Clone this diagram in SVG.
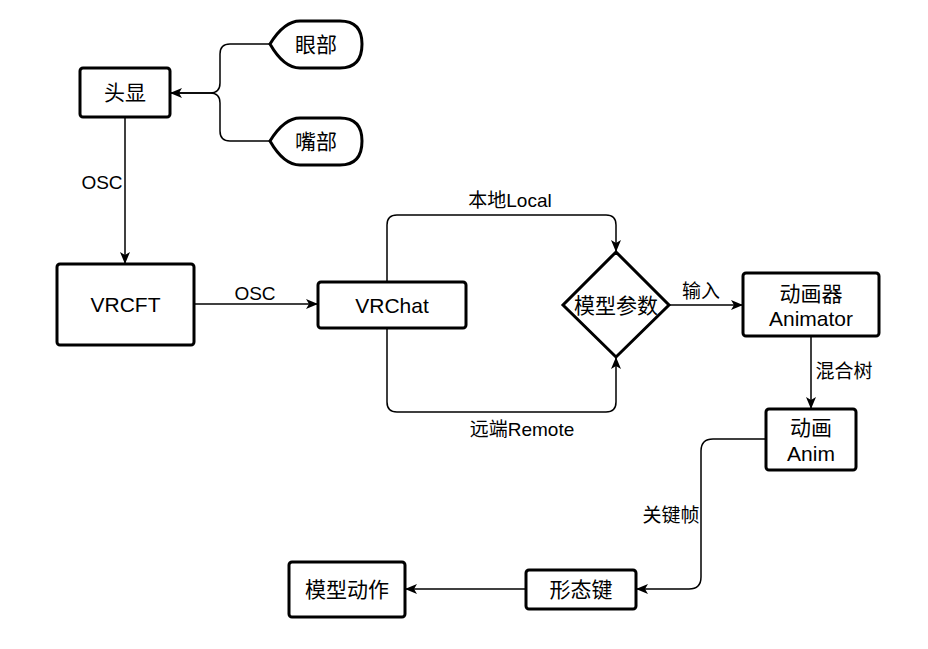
<svg xmlns="http://www.w3.org/2000/svg" width="928" height="649" viewBox="0 0 928 649">
<style>
text{font-family:"Liberation Sans","Noto Sans CJK SC",sans-serif;fill:#000;text-anchor:middle;dominant-baseline:central}
.n{font-size:21px}
.e{font-size:19px}
.box{fill:#fff;stroke:#000;stroke-width:3}
.c{fill:none;stroke:#000;stroke-width:1.5}
</style>
<defs>
<marker id="arr" viewBox="0 0 12 10" refX="12" refY="5" markerWidth="12" markerHeight="10" markerUnits="userSpaceOnUse" orient="auto">
<path d="M0,0 L12,5 L0,10 L3,5 Z" fill="#000"/>
</marker>
</defs>
<rect width="928" height="649" fill="#fff"/>
<g id="connectors">
<path class="c" d="M270,44 L230,44 Q220,44 220,54 L220,83 Q220,93 210,93 L170,93" marker-end="url(#arr)"/>
<path class="c" d="M270,141 L230,141 Q220,141 220,131 L220,103 Q220,93 210,93 L170,93"/>
<path class="c" d="M125,117 L125,264" marker-end="url(#arr)"/>
<text class="e" x="102" y="182">OSC</text>
<path class="c" d="M194,304 L318,304" marker-end="url(#arr)"/>
<text class="e" x="255" y="293">OSC</text>
<path class="c" d="M387,282 L387,225 Q387,215 397,215 L606,215 Q616,215 616,225 L616,252" marker-end="url(#arr)"/>
<text class="e" x="510" y="200">本地Local</text>
<path class="c" d="M387,328 L387,402 Q387,412 397,412 L606,412 Q616,412 616,402 L616,357" marker-end="url(#arr)"/>
<text class="e" x="522" y="429">远端Remote</text>
<path class="c" d="M669,305 L743,305" marker-end="url(#arr)"/>
<text class="e" x="701" y="291">输入</text>
<path class="c" d="M811,336 L811,409" marker-end="url(#arr)"/>
<text class="e" x="844" y="371">混合树</text>
<path class="c" d="M766,439 L713,439 Q701,439 701,451 L701,577 Q701,589 689,589 L636,589" marker-end="url(#arr)"/>
<text class="e" x="671" y="515">关键帧</text>
<path class="c" d="M526,589 L405,589" marker-end="url(#arr)"/>
</g>
<g id="eye">
<path class="box" d="M270,44 C278,31 288,21 300,21 L340,21 Q362,21 362,44 Q362,68 340,68 L300,68 C288,68 278,58 270,44 Z"/>
<text class="n" x="316" y="44">眼部</text>
</g>
<g id="mouth">
<path class="box" d="M270,141 C278,128 288,118 300,118 L340,118 Q362,118 362,141 Q362,165 340,165 L300,165 C288,165 278,155 270,141 Z"/>
<text class="n" x="316" y="141">嘴部</text>
</g>
<g id="hmd">
<rect class="box" x="80" y="68" width="90" height="49" rx="3"/>
<text class="n" x="125" y="92.5">头显</text>
</g>
<g id="vrcft">
<rect class="box" x="57" y="264" width="137" height="81" rx="3"/>
<text class="n" x="125.5" y="304.5">VRCFT</text>
</g>
<g id="vrchat">
<rect class="box" x="318" y="282" width="148" height="46" rx="3"/>
<text class="n" x="392" y="305">VRChat</text>
</g>
<g id="params">
<polygon class="box" points="616,252 669,305 616,357 563,305"/>
<text class="n" x="616" y="305">模型参数</text>
</g>
<g id="animator">
<rect class="box" x="743" y="273" width="136" height="63" rx="3"/>
<text class="n" x="811" y="293">动画器</text>
<text class="n" x="811" y="318">Animator</text>
</g>
<g id="anim">
<rect class="box" x="766" y="409" width="90" height="61" rx="3"/>
<text class="n" x="811" y="427">动画</text>
<text class="n" x="811" y="453">Anim</text>
</g>
<g id="shapekey">
<rect class="box" x="526" y="570" width="110" height="39" rx="3"/>
<text class="n" x="581" y="589">形态键</text>
</g>
<g id="motion">
<rect class="box" x="289" y="562" width="116" height="55" rx="3"/>
<text class="n" x="347" y="589">模型动作</text>
</g>
</svg>
